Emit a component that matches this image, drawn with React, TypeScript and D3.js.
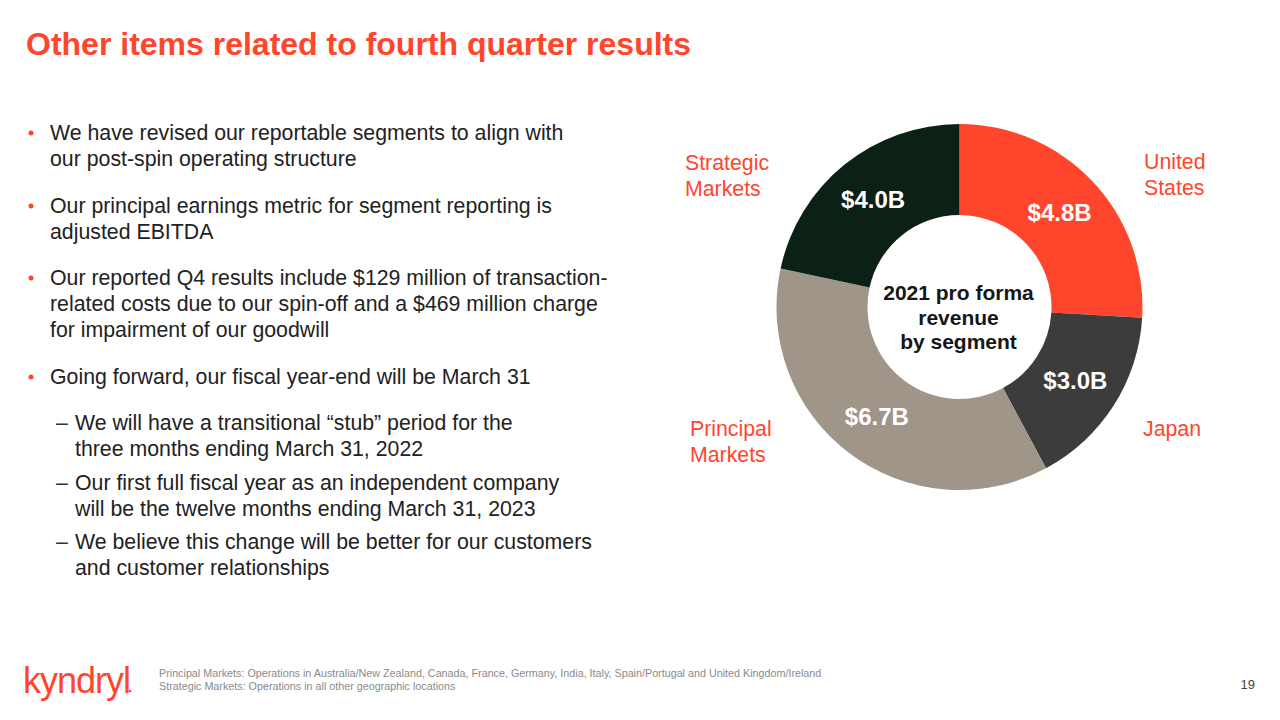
import React from "react";
import * as d3 from "d3";

const segments = ["United States", "Japan", "Principal Markets", "Strategic Markets"];
const revenue = [4.8, 3.0, 6.7, 4.0];
const valueLabels = ["$4.8B", "$3.0B", "$6.7B", "$4.0B"];
const segmentColors = ["#FF462D", "#3D3C3C", "#A09589", "#0C2116"];

const bullets: { kind: "main" | "sub"; lines: string[] }[] = [
  { kind: "main", lines: ["We have revised our reportable segments to align with", "our post-spin operating structure"] },
  { kind: "main", lines: ["Our principal earnings metric for segment reporting is", "adjusted EBITDA"] },
  { kind: "main", lines: ["Our reported Q4 results include $129 million of transaction-", "related costs due to our spin-off and a $469 million charge", "for impairment of our goodwill"] },
  { kind: "main", lines: ["Going forward, our fiscal year-end will be March 31"] },
  { kind: "sub", lines: ["We will have a transitional \u201cstub\u201d period for the", "three months ending March 31, 2022"] },
  { kind: "sub", lines: ["Our first full fiscal year as an independent company", "will be the twelve months ending March 31, 2023"] },
  { kind: "sub", lines: ["We believe this change will be better for our customers", "and customer relationships"] },
];
const bulletTops = [140, 213, 285, 384, 430, 490, 549];

const outerLabels = [
  { lines: ["United", "States"], x: 1144, y: 169 },
  { lines: ["Japan"], x: 1143, y: 436 },
  { lines: ["Principal", "Markets"], x: 690, y: 436 },
  { lines: ["Strategic", "Markets"], x: 685, y: 170 },
];

const centerLines = ["2021 pro forma", "revenue", "by segment"];
const footnotes = [
  "Principal Markets: Operations in Australia/New Zealand, Canada, France, Germany, India, Italy, Spain/Portugal and United Kingdom/Ireland",
  "Strategic Markets: Operations in all other geographic locations",
];

const FONT = "'Liberation Sans', Arial, sans-serif";
const RED = "#FF462D";

export default function App() {
  const cx = 959.5;
  const cy = 307;
  const rOuter = 183;
  const rInner = 92;
  const pie = d3.pie<number>().sort(null).value((d) => d)(revenue);
  const arc = d3.arc<d3.PieArcDatum<number>>().innerRadius(rInner).outerRadius(rOuter);
  const lh = 26;
  const fs = 21.3;

  return (
    <svg width={1280} height={720} style={{ position: "absolute", left: 0, top: 0, background: "#fff" }} fontFamily={FONT}>
      <rect width={1280} height={720} fill="#fff" />
      <text x={26} y={55} fontSize={32} fontWeight="bold" fill={RED}>
        Other items related to fourth quarter results
      </text>

      {bullets.map((b, i) => {
        const tx = b.kind === "main" ? 50 : 75;
        return (
          <g key={i}>
            {b.kind === "main" ? (
              <circle cx={31} cy={bulletTops[i] - 7} r={2.5} fill={RED} />
            ) : (
              <text x={56} y={bulletTops[i]} fontSize={fs} fill="#333">{"\u2013"}</text>
            )}
            {b.lines.map((l, j) => (
              <text key={j} x={tx} y={bulletTops[i] + j * lh} fontSize={fs} fill="#222">
                {l}
              </text>
            ))}
          </g>
        );
      })}

      <g transform={`translate(${cx},${cy})`}>
        {pie.map((p, i) => (
          <path key={i} d={arc(p) || ""} fill={segmentColors[i]} />
        ))}
        {pie.map((p, i) => {
          const [x, y] = arc.centroid(p);
          return (
            <text key={i} x={x} y={y} dy="0.35em" textAnchor="middle" fontSize={24} fontWeight="bold" fill="#fff">
              {valueLabels[i]}
            </text>
          );
        })}
        {centerLines.map((l, i) => (
          <text key={i} x={-1} y={-14 + i * 24.5} dy="0.35em" textAnchor="middle" fontSize={21} fontWeight="bold" fill="#161616">
            {l}
          </text>
        ))}
      </g>

      {outerLabels.map((o, i) => (
        <g key={i}>
          {o.lines.map((l, j) => (
            <text key={j} x={o.x} y={o.y + j * 26} fontSize={fs} fill={RED}>
              {l}
            </text>
          ))}
        </g>
      ))}

      <text x={23} y={693} fontSize={36} fill={RED} fontWeight={300} letterSpacing={-1}>
        kyndryl
      </text>
      <circle cx={130} cy={691} r={1.3} fill={RED} />

      {footnotes.map((f, i) => (
        <text key={i} x={159} y={677 + i * 13} fontSize={10.75} fill="#8a8a8a">
          {f}
        </text>
      ))}
      <text x={1255} y={689} fontSize={13} fill="#444" textAnchor="end">19</text>
    </svg>
  );
}
